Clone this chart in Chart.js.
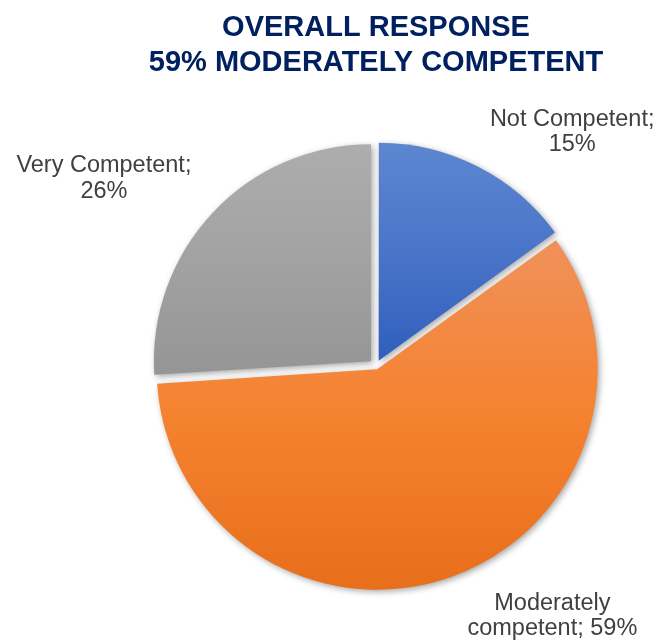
<!DOCTYPE html>
<html>
<head>
<meta charset="utf-8">
<title>Overall response</title>
<script src="https://cdn.jsdelivr.net/npm/chart.js@4.4.1/dist/chart.umd.min.js"></script>
<style>
  html, body { margin: 0; padding: 0; background: #fff; }
  #wrap { width: 663px; height: 642px; position: relative; }
</style>
</head>
<body>
<div id="wrap"><canvas id="chart"></canvas></div>
<script>
// survey answers, share of respondents (%)
const categories = ['Not Competent', 'Moderately competent', 'Very Competent'];
const shares = [15, 59, 26];

// slice fills, gradient top -> bottom
const gradTop    = ['#5d86d0', '#f0915a', '#adadad'];
const gradMid    = ['#4a74c8', '#f5822f', '#a2a2a2'];
const gradBottom = ['#2f5fbd', '#e86f1c', '#959595'];

const FONT = '"Liberation Sans", Arial, Helvetica, sans-serif';
const EXPLODE = 7; // px every slice is pulled out
const total = shares.reduce((a, b) => a + b, 0);

// chart.js moves an arc by offset/4 * (1 + fix), so work back to the offset we need
function sliceOffset(v) {
  const circ = v / total * 2 * Math.PI;
  const fix = 1 - Math.sin(Math.min(Math.PI, circ));
  return 4 * EXPLODE / (1 + fix);
}

// vertical gradient over each slice's own bounding box
function sliceGradient(context) {
  const i = context.dataIndex;
  const arc = context.element;
  if (!arc || arc.x === undefined || !arc.outerRadius) return gradMid[i];
  const {x, y, startAngle, endAngle, outerRadius} = arc;
  const ys = [y, y + outerRadius * Math.sin(startAngle), y + outerRadius * Math.sin(endAngle)];
  [-Math.PI / 2, Math.PI / 2, 3 * Math.PI / 2].forEach(a => {
    if (a >= startAngle && a <= endAngle) ys.push(y + outerRadius * Math.sin(a));
  });
  const top = Math.min(...ys), bottom = Math.max(...ys);
  const g = context.chart.ctx.createLinearGradient(0, top, 0, bottom);
  g.addColorStop(0, gradTop[i]);
  g.addColorStop(0.5, gradMid[i]);
  g.addColorStop(1, gradBottom[i]);
  return g;
}

function wrapText(c, text, maxWidth) {
  const words = text.split(' ');
  const lines = [];
  let line = '';
  words.forEach(w => {
    const test = line ? line + ' ' + w : w;
    if (line && c.measureText(test).width > maxWidth) {
      lines.push(line);
      line = w;
    } else {
      line = test;
    }
  });
  if (line) lines.push(line);
  return lines;
}

// soft drop shadow under the slices
const sliceShadow = {
  id: 'sliceShadow',
  beforeDatasetDraw(chart) {
    const c = chart.ctx;
    c.save();
    c.shadowColor = 'rgba(0,0,0,0.35)';
    c.shadowBlur = 6;
    c.shadowOffsetX = 2;
    c.shadowOffsetY = 2;
  },
  afterDatasetDraw(chart) {
    chart.ctx.restore();
  }
};

// "Category; NN%" labels outside the pie
const sliceLabels = {
  id: 'sliceLabels',
  afterDatasetsDraw(chart, args, opts) {
    const c = chart.ctx;
    const arcs = chart.getDatasetMeta(0).data;
    c.save();
    c.font = opts.size + 'px ' + FONT;
    c.fillStyle = opts.color;
    c.textAlign = 'center';
    c.textBaseline = 'alphabetic';
    arcs.forEach((arc, i) => {
      const mid = (arc.startAngle + arc.endAngle) / 2;
      const ax = arc.x + Math.cos(mid) * EXPLODE;
      const ay = arc.y + Math.sin(mid) * EXPLODE;
      const lines = wrapText(c, categories[i] + '; ' + shares[i] + '%', opts.maxWidth);
      const [dx, dy] = opts.shift[i];
      lines.forEach((ln, k) => c.fillText(ln, ax + dx, ay + dy + k * opts.lineHeight));
    });
    c.restore();
  }
};

const myChart = new Chart(document.getElementById('chart'), {
  type: 'pie',
  data: {
    labels: categories,
    datasets: [{
      data: shares,
      backgroundColor: sliceGradient,
      borderWidth: 0,
      offset: shares.map(sliceOffset),
      radius: 217
    }]
  },
  options: {
    responsive: true,
    maintainAspectRatio: false,
    animation: false,
    devicePixelRatio: 1,
    events: [],
    layout: { padding: { left: 89, top: 0, right: 0, bottom: 0 } },
    plugins: {
      legend: { display: false },
      tooltip: { enabled: false },
      title: {
        display: true,
        fullSize: false,
        text: ['OVERALL RESPONSE', shares[1] + '% ' + categories[1].toUpperCase()],
        color: '#002060',
        font: { family: FONT, size: 29, weight: 'bold', lineHeight: 1.207 },
        padding: { top: 10.5, bottom: 9.5 }
      },
      sliceLabels: {
        size: 23.5,
        color: '#404040',
        maxWidth: 190,
        lineHeight: 25.5,
        shift: [[193, -234], [174, 237], [-267, -189]]
      }
    }
  },
  plugins: [sliceShadow, sliceLabels]
});

// second pass so the gradients can use the laid-out arcs
myChart.update();
</script>
</body>
</html>
